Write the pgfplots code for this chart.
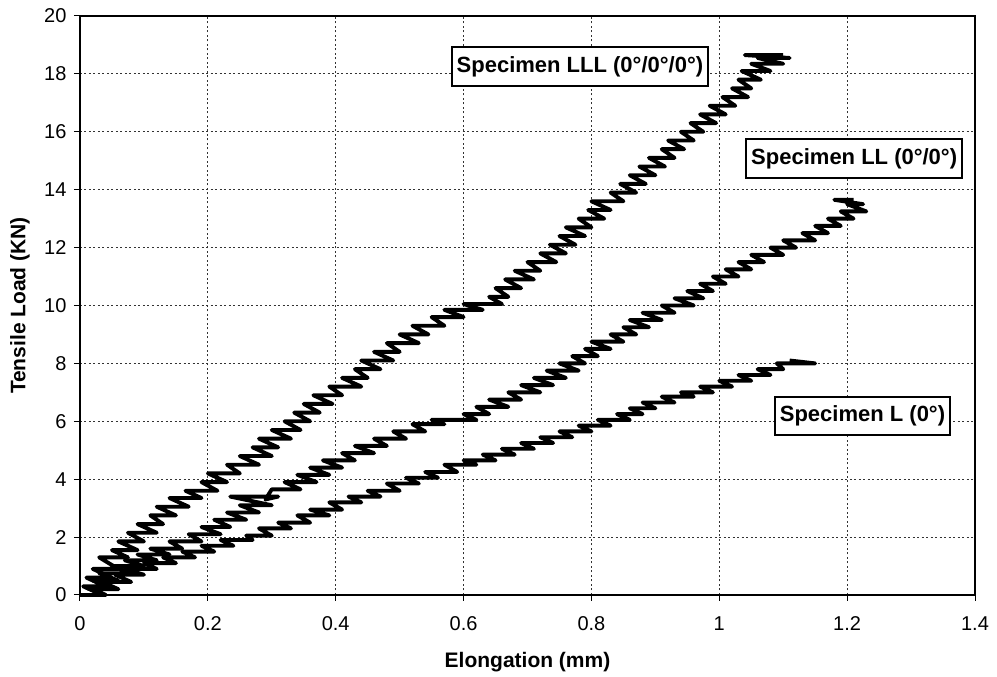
\documentclass[border=0pt]{standalone}
\usepackage{fontspec}
\setmainfont{Liberation Sans}
\usepackage{pgfplots}
\pgfplotsset{compat=1.18}

\begin{document}
\begin{tikzpicture}
\useasboundingbox (-80pt,-82pt) rectangle (917pt,595pt);
\begin{axis}[
  at={(0pt,0pt)}, anchor=south west,
  scale only axis, width=895pt, height=579pt,
  xmin=0, xmax=1.4, ymin=0, ymax=20,
  xtick={0,0.2,0.4,0.6,0.8,1,1.2,1.4},
  ytick={0,2,4,6,8,10,12,14,16,18,20},
  xtick pos=bottom, ytick pos=left,
  tick align=outside, major tick length=6pt,
  tick style={black, line width=1pt},
  axis line style={line width=2.4pt},
  grid=major,
  major grid style={line width=1.1pt, black!80, dash pattern=on 2pt off 2.5pt},
  /pgf/number format/assume math mode=true,
  tick label style={font=\fontsize{20}{23}\selectfont},
  yticklabel style={xshift=-4pt},
  xticklabel style={yshift=-12pt},
  xlabel={Elongation (mm)},
  ylabel={Tensile Load (KN)},
  label style={font=\bfseries\fontsize{21}{25}\selectfont},
  xlabel style={at={(axis description cs:0.5,-0.116)}, anchor=center},
  ylabel style={at={(axis description cs:-0.067,0.5)}, anchor=center},
  clip=false,
]
% Specimen LLL
\addplot[black, line width=3.9pt, line join=round] coordinates {
(0,0) (0.035,0) (0.005,0.3) (0.04,0.3) (0.01,0.6) (0.05,0.6) (0.02,0.9) (0.06,0.9) (0.03,1.3) (0.075,1.3)
(0.05,1.55) (0.09,1.55) (0.06,1.85) (0.1,1.85) (0.075,2.15) (0.12,2.15) (0.09,2.45) (0.13,2.45) (0.11,2.75) (0.15,2.75)
(0.12,3.05) (0.17,3.05) (0.14,3.35) (0.19,3.35) (0.165,3.6) (0.215,3.6) (0.19,3.9) (0.23,3.9) (0.2,4.2) (0.25,4.2)
(0.23,4.5) (0.28,4.5) (0.25,4.8) (0.3,4.8) (0.27,5.1) (0.31,5.1) (0.28,5.4) (0.33,5.4) (0.3,5.7) (0.345,5.7)
(0.32,6.0) (0.36,6.0) (0.335,6.3) (0.375,6.3) (0.35,6.6) (0.395,6.6) (0.365,6.9) (0.41,6.9) (0.39,7.2) (0.44,7.2)
(0.41,7.5) (0.45,7.5) (0.43,7.8) (0.47,7.8) (0.44,8.1) (0.49,8.1) (0.46,8.4) (0.5,8.4) (0.48,8.7) (0.53,8.7)
(0.5,9.0) (0.545,9.0) (0.52,9.3) (0.57,9.3) (0.55,9.6) (0.6,9.6) (0.57,9.85) (0.63,9.85) (0.6,10.05) (0.66,10.05)
(0.64,10.3) (0.67,10.3) (0.65,10.6) (0.69,10.6) (0.665,10.9) (0.71,10.9) (0.68,11.2) (0.72,11.2) (0.7,11.5) (0.745,11.5)
(0.72,11.8) (0.76,11.8) (0.735,12.1) (0.775,12.1) (0.75,12.4) (0.79,12.4) (0.76,12.7) (0.8,12.7) (0.78,13.0) (0.82,13.0)
(0.795,13.3) (0.83,13.3) (0.8,13.6) (0.85,13.6) (0.83,13.9) (0.87,13.9) (0.845,14.2) (0.885,14.2) (0.86,14.5) (0.9,14.5)
(0.875,14.8) (0.915,14.8) (0.89,15.1) (0.93,15.1) (0.91,15.4) (0.945,15.4) (0.92,15.7) (0.96,15.7) (0.94,16.0) (0.975,16.0)
(0.955,16.3) (0.995,16.3) (0.97,16.6) (1.01,16.6) (0.985,16.9) (1.025,16.9) (1.005,17.2) (1.045,17.2) (1.02,17.5) (1.05,17.5)
(1.03,17.8) (1.065,17.8) (1.035,18.1) (1.08,18.1) (1.05,18.35) (1.1,18.35) (1.06,18.55) (1.11,18.55) (1.04,18.65) (1.1,18.65)
};
% Specimen LL
\addplot[black, line width=3.9pt, line join=round] coordinates {
(0,0) (0.04,0) (0.01,0.25) (0.05,0.25) (0.02,0.5) (0.06,0.5) (0.03,0.75) (0.08,0.75) (0.05,1.0) (0.1,1.0)
(0.07,1.2) (0.12,1.2) (0.09,1.4) (0.14,1.4) (0.11,1.6) (0.16,1.6) (0.14,1.85) (0.19,1.85) (0.17,2.1) (0.22,2.1)
(0.19,2.35) (0.235,2.35) (0.21,2.6) (0.26,2.6) (0.23,2.85) (0.28,2.85) (0.25,3.1) (0.3,3.1) (0.235,3.4) (0.31,3.4)
(0.29,3.3) (0.3,3.65) (0.345,3.65) (0.32,3.9) (0.37,3.9) (0.34,4.15) (0.39,4.15) (0.36,4.4) (0.41,4.4)
(0.38,4.65) (0.43,4.65) (0.41,4.9) (0.46,4.9) (0.43,5.15) (0.48,5.15) (0.46,5.4) (0.51,5.4) (0.49,5.65) (0.54,5.65)
(0.52,5.9) (0.57,5.9) (0.55,6.05) (0.62,6.05) (0.6,6.25) (0.64,6.25) (0.62,6.5) (0.67,6.5) (0.64,6.75) (0.69,6.75)
(0.67,7.0) (0.72,7.0) (0.69,7.25) (0.74,7.25) (0.71,7.5) (0.76,7.5) (0.73,7.75) (0.78,7.75) (0.75,8.0) (0.79,8.0)
(0.77,8.25) (0.81,8.25) (0.79,8.5) (0.83,8.5) (0.8,8.75) (0.85,8.75) (0.83,9.0) (0.87,9.0) (0.85,9.25) (0.89,9.25)
(0.86,9.5) (0.91,9.5) (0.88,9.75) (0.93,9.75) (0.91,10.0) (0.96,10.0) (0.93,10.25) (0.975,10.25) (0.95,10.5) (0.99,10.5)
(0.97,10.75) (1.01,10.75) (0.99,11.0) (1.03,11.0) (1.01,11.25) (1.05,11.25) (1.03,11.5) (1.07,11.5) (1.05,11.75) (1.1,11.75)
(1.08,12.0) (1.12,12.0) (1.1,12.25) (1.15,12.25) (1.13,12.5) (1.17,12.5) (1.15,12.75) (1.19,12.75) (1.17,13.0) (1.21,13.0)
(1.19,13.25) (1.23,13.25) (1.2,13.5) (1.225,13.5) (1.18,13.65) (1.21,13.65)
};
% Specimen L
\addplot[black, line width=3.9pt, line join=round] coordinates {
(0,0) (0.04,0) (0.02,0.2) (0.06,0.2) (0.035,0.45) (0.08,0.45) (0.055,0.7) (0.1,0.7) (0.07,0.9) (0.12,0.9)
(0.1,1.1) (0.15,1.1) (0.13,1.3) (0.18,1.3) (0.16,1.5) (0.21,1.5) (0.19,1.7) (0.24,1.7) (0.22,1.9) (0.27,1.9)
(0.26,2.05) (0.3,2.05) (0.28,2.3) (0.33,2.3) (0.31,2.5) (0.36,2.5) (0.34,2.75) (0.39,2.75) (0.36,2.95) (0.41,2.95)
(0.39,3.2) (0.44,3.2) (0.42,3.4) (0.47,3.4) (0.45,3.6) (0.5,3.6) (0.48,3.85) (0.53,3.85) (0.51,4.05) (0.56,4.05)
(0.54,4.25) (0.59,4.25) (0.57,4.5) (0.62,4.5) (0.6,4.65) (0.65,4.65) (0.63,4.85) (0.68,4.85) (0.66,5.05) (0.71,5.05)
(0.69,5.25) (0.74,5.25) (0.72,5.45) (0.77,5.45) (0.75,5.65) (0.8,5.65) (0.78,5.85) (0.83,5.85) (0.81,6.05) (0.86,6.05)
(0.84,6.25) (0.88,6.25) (0.86,6.45) (0.9,6.45) (0.88,6.65) (0.93,6.65) (0.91,6.85) (0.96,6.85) (0.94,7.0) (0.99,7.0)
(0.97,7.2) (1.02,7.2) (1.0,7.4) (1.05,7.4) (1.03,7.6) (1.08,7.6) (1.06,7.8) (1.1,7.8) (1.09,8.0) (1.15,8.0)
(1.11,8.1)
};
\tikzset{spec/.style={draw=black, line width=1.8pt, fill=white, inner xsep=5pt, inner ysep=9pt,
  font=\bfseries\fontsize{22}{26}\selectfont}}
\node[spec] at (axis cs:0.782,18.26) {Specimen LLL (0°/0°/0°)};
\node[spec] at (axis cs:1.211,15.08) {Specimen LL (0°/0°)};
\node[spec] at (axis cs:1.224,6.18) {Specimen L (0°)};
\end{axis}
\end{tikzpicture}
\end{document}
